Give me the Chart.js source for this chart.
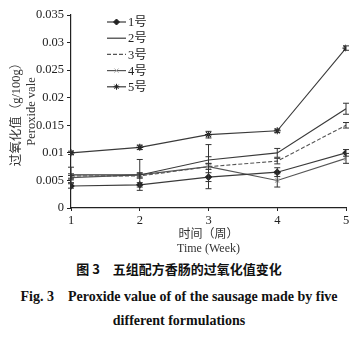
<!DOCTYPE html>
<html>
<head>
<meta charset="utf-8">
<script src="https://cdn.jsdelivr.net/npm/chart.js@4/dist/chart.umd.min.js"></script>
<style>
body { margin: 0; background: #fff; width: 358px; height: 343px; overflow: hidden; }
#wrap { position: relative; width: 358px; height: 256px; }
.cap { font-family: "Liberation Serif", serif; font-weight: bold; text-align: center; color: #111; }
</style>
</head>
<body>
<div id="wrap"><canvas id="peroxideChart" width="358" height="256"></canvas></div>
<div class="cap" style="font-family:'Noto Sans CJK SC',sans-serif;font-size:13px;margin-top:3px;">图 3&emsp;五组配方香肠的过氧化值变化</div>
<div class="cap" style="font-size:14px;margin-top:7px;line-height:24px;">Fig. 3&emsp;Peroxide value of of the sausage made by five<br>different formulations</div>
<script>
const weeks = [1, 2, 3, 4, 5];
const labels = ['1号', '2号', '3号', '4号', '5号'];
const s1 = [0.0040, 0.0042, 0.0056, 0.0065, 0.0100];
const s2 = [0.0060, 0.0060, 0.0087, 0.0100, 0.0180];
const s3 = [0.0058, 0.0058, 0.0075, 0.0085, 0.0150];
const s4 = [0.0055, 0.0060, 0.0075, 0.0050, 0.0090];
const s5 = [0.0100, 0.0110, 0.0133, 0.0140, 0.0290];
const e1 = [0.0004, 0.0004, 0.0008, 0.0008, 0.0006];
const e2 = [0.0014, 0.0028, 0.0006, 0.0008, 0.0010];
const e3 = [0.0004, 0.0004, 0.0005, 0.0005, 0.0005];
const e4 = [0.0004, 0.0004, 0.0040, 0.0012, 0.0009];
const e5 = [0.0003, 0.0004, 0.0006, 0.0003, 0.0004];

const serif = '"Liberation Serif", "Noto Sans CJK SC", serif';
const toPts = arr => arr.map((v, i) => ({ x: weeks[i], y: v }));

// error bars drawn through the scales
const errorBars = {
  id: 'errorBars',
  afterDatasetsDraw(chart) {
    const c = chart.ctx, xs = chart.scales.x, ys = chart.scales.y;
    c.save();
    c.strokeStyle = '#333';
    c.lineWidth = 1;
    chart.data.datasets.forEach(ds => {
      ds.err.forEach((e, i) => {
        const px = xs.getPixelForValue(weeks[i]);
        const top = ys.getPixelForValue(ds.data[i].y + e);
        const bot = ys.getPixelForValue(ds.data[i].y - e);
        c.beginPath();
        c.moveTo(px, top); c.lineTo(px, bot);
        c.moveTo(px - 3, top); c.lineTo(px + 3, top);
        c.moveTo(px - 3, bot); c.lineTo(px + 3, bot);
        c.stroke();
      });
    });
    c.restore();
  }
};

// legend inside the plot, top left
const legendBox = {
  id: 'legendBox',
  afterDraw(chart) {
    const c = chart.ctx;
    c.save();
    c.font = '12.5px ' + serif;
    c.textBaseline = 'middle';
    chart.data.datasets.forEach((ds, i) => {
      const y = 22 + i * 16.2;
      c.strokeStyle = ds.borderColor;
      c.lineWidth = 1.2;
      c.setLineDash(ds.borderDash || []);
      c.beginPath(); c.moveTo(107, y); c.lineTo(126, y); c.stroke();
      c.setLineDash([]);
      if (ds.pointStyle && ds.pointRadius > 0) {
        c.fillStyle = ds.pointBackgroundColor;
        c.strokeStyle = ds.pointBorderColor;
        c.lineWidth = 1;
        Chart.helpers.drawPoint(c, { pointStyle: ds.pointStyle, radius: 3, borderWidth: 1 }, 116.5, y);
      }
      c.fillStyle = '#222';
      c.fillText(ds.label, 128, y + 1);
    });
    c.restore();
  }
};

function series(label, data, err, style, extra) {
  return Object.assign({
    label: label, data: toPts(data), err: err,
    borderColor: '#3a3a3a', borderWidth: 1.1,
    pointStyle: style, pointRadius: style ? 3 : 0,
    pointBackgroundColor: '#222', pointBorderColor: '#222',
    tension: 0
  }, extra || {});
}

const ctx = document.getElementById('peroxideChart');
new Chart(ctx, {
  type: 'line',
  data: {
    datasets: [
      series(labels[0], s1, e1, 'rectRot'),
      series(labels[1], s2, e2, false),
      series(labels[2], s3, e3, false, { borderDash: [4, 2], borderColor: '#555' }),
      series(labels[3], s4, e4, 'crossRot', { borderColor: '#555', pointBorderColor: '#aaa', pointBackgroundColor: '#ccc' }),
      series(labels[4], s5, e5, 'star', { pointRadius: 3.5 })
    ]
  },
  options: {
    responsive: false,
    animation: false,
    layout: { padding: { top: 15, right: 12, left: 10, bottom: 0 } },
    plugins: { legend: { display: false }, tooltip: { enabled: false } },
    scales: {
      x: {
        type: 'linear', min: 1, max: 5,
        afterFit: s => { s.height = 48; },
        border: { color: '#222', width: 1.2 },
        grid: { drawOnChartArea: false, tickLength: 3, color: '#222' },
        ticks: { stepSize: 1, color: '#222', font: { family: serif, size: 12.5 }, padding: 2 },
        title: {
          display: true, text: ['时间（周）', 'Time (Week)'], color: '#333',
          font: { family: serif, size: 12, lineHeight: 1.15 }, padding: { top: 0, bottom: 0 }
        }
      },
      y: {
        min: 0, max: 0.035,
        afterFit: s => { s.width = 61; },
        border: { color: '#222', width: 1.2 },
        grid: { drawOnChartArea: false, tickLength: 4, color: '#222' },
        ticks: {
          stepSize: 0.005, color: '#222', font: { family: serif, size: 12.5 }, padding: 3,
          callback: v => +v.toFixed(3) + ''
        },
        title: {
          display: true, text: ['过氧化值（g/100g）', 'Peroxide vale'], color: '#333',
          font: { family: serif, size: 12.5, lineHeight: 1.15 }, padding: { top: 0, bottom: 0 }
        }
      }
    }
  },
  plugins: [errorBars, legendBox]
});
</script>
</body>
</html>
